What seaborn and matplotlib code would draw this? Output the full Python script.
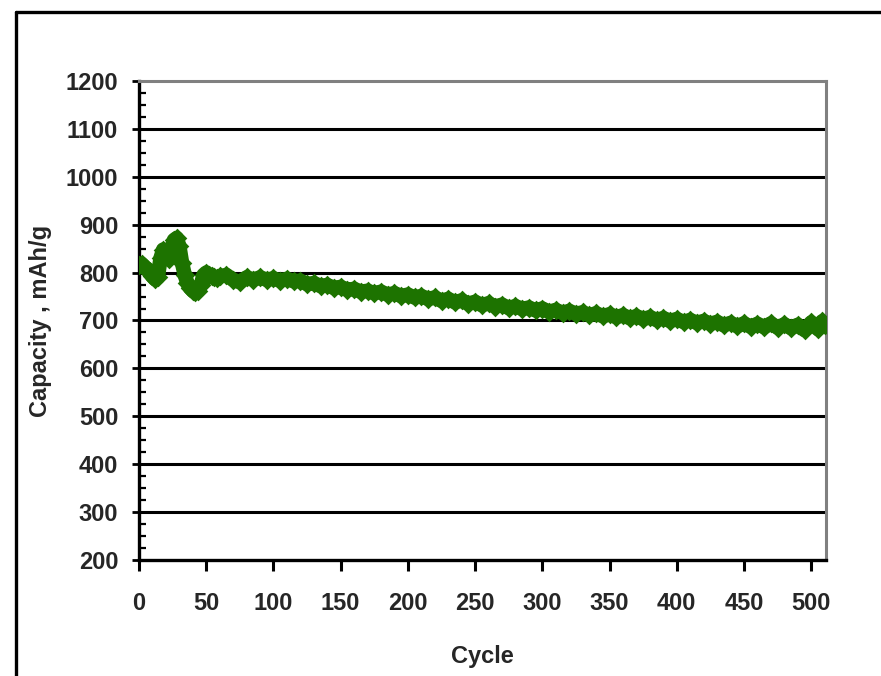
import numpy as np
import pandas as pd
import matplotlib.pyplot as plt
from matplotlib.lines import Line2D
from matplotlib.ticker import MultipleLocator
import seaborn as sns

# ------------------------------------------------------------
# DATA
# ------------------------------------------------------------

early_cycles = [0, 2, 4, 6, 8, 10, 12, 14, 16, 18, 20, 22, 24, 26, 28, 30,
                32, 34, 36, 38, 40, 42, 44, 46, 48, 50, 52, 54, 56, 58, 60]
early_capacity = [815, 818, 812, 808, 800, 792, 786, 790, 830, 848, 840, 828,
                  845, 868, 872, 855, 820, 795, 778, 768, 762, 760, 762, 775,
                  795, 800, 795, 792, 790, 788, 792]

late_cycles = [65, 70, 75, 80, 85, 90, 95, 100, 105, 110, 115, 120, 125, 130,
               135, 140, 145, 150, 155, 160, 165, 170, 175, 180, 185, 190,
               195, 200, 205, 210, 215, 220, 225, 230, 235, 240, 245, 250,
               255, 260, 265, 270, 275, 280, 285, 290, 295, 300, 305, 310,
               315, 320, 325, 330, 335, 340, 345, 350, 355, 360, 365, 370,
               375, 380, 385, 390, 395, 400, 405, 410, 415, 420, 425, 430,
               435, 440, 445, 450, 455, 460, 465, 470, 475, 480, 485, 490,
               495, 500, 505, 508, 510]
late_capacity = [795, 785, 780, 790, 785, 790, 785, 788, 783, 787, 782, 783,
                 776, 778, 772, 774, 768, 770, 764, 766, 760, 762, 757, 760,
                 754, 757, 751, 754, 748, 751, 745, 748, 741, 745, 738, 742,
                 735, 739, 732, 736, 729, 733, 726, 730, 724, 727, 721, 725,
                 718, 722, 716, 720, 714, 717, 711, 715, 709, 713, 707, 711,
                 705, 709, 703, 707, 701, 705, 699, 703, 697, 701, 695, 699,
                 693, 697, 690, 695, 688, 694, 687, 693, 686, 694, 685, 692,
                 684, 691, 680, 696, 682, 698, 690]

Y_TICKS = [200, 300, 400, 500, 600, 700, 800, 900, 1000, 1100, 1200]
X_TICKS = [0, 50, 100, 150, 200, 250, 300, 350, 400, 450, 500]
GRID_LEVELS = [300, 400, 500, 600, 700, 800, 900, 1000, 1100]

df = pd.DataFrame({
    "cycle": early_cycles + late_cycles,
    "capacity": early_capacity + late_capacity,
})

GREEN = "#1d7300"

# ------------------------------------------------------------
# PLOT
# ------------------------------------------------------------

sns.set_theme(style="white")
plt.rcParams["font.family"] = ["Liberation Sans", "DejaVu Sans"]
plt.rcParams["font.weight"] = "bold"

fig = plt.figure(figsize=(8.81, 6.76), dpi=100)
ax = fig.add_axes([0.1578, 0.1716, 0.7798, 0.7086])

for level in GRID_LEVELS:
    ax.axhline(level, color="black", linewidth=2.2, zorder=1)

# thick band of overlapping markers
sns.lineplot(
    data=df, x="cycle", y="capacity", ax=ax,
    color=GREEN, linewidth=10.5, sort=False, zorder=3
)
sns.scatterplot(
    data=df, x="cycle", y="capacity", ax=ax,
    color=GREEN, marker="D", s=100, linewidth=0, zorder=4
)

ax.set_xlim(0, 511)
ax.set_ylim(200, 1200)
ax.set_xticks(X_TICKS)
ax.set_yticks(Y_TICKS)
ax.yaxis.set_minor_locator(MultipleLocator(25))

ax.tick_params(axis="y", which="major", direction="out", length=5, width=2,
               color="black", left=True, pad=10, labelsize=17)
ax.tick_params(axis="y", which="minor", direction="in", length=5, width=1.6,
               color="black", left=True)
ax.tick_params(axis="x", which="major", direction="out", length=8, width=2.2,
               color="black", bottom=True, pad=15, labelsize=17)

for side in ["left", "bottom"]:
    ax.spines[side].set_color("black")
    ax.spines[side].set_linewidth(2.4)
for side in ["top", "right"]:
    ax.spines[side].set_color("#808080")
    ax.spines[side].set_linewidth(2.2)

ax.set_xlabel("Cycle", fontsize=17, fontweight="bold", labelpad=22)
ax.set_ylabel("Capacity , mAh/g", fontsize=17, fontweight="bold", labelpad=10)

# outer frame (top and left edges of the picture)
fig.add_artist(Line2D([0.018, 1.0], [0.982, 0.982], color="black",
                      linewidth=2.4, transform=fig.transFigure))
fig.add_artist(Line2D([0.018, 0.018], [0.0, 0.982], color="black",
                      linewidth=2.4, transform=fig.transFigure))

fig.savefig("out.png", dpi=100)
plt.close(fig)
